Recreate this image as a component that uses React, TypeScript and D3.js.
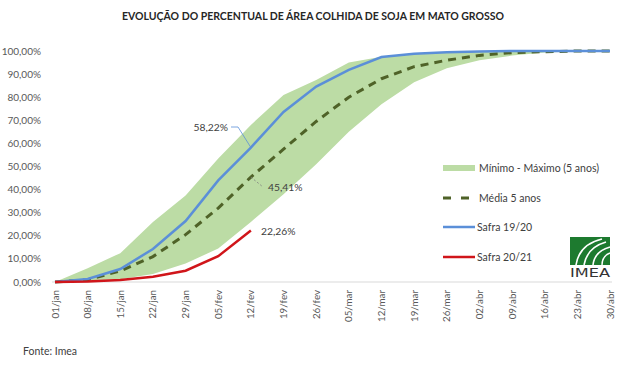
import React from 'react';
import * as d3 from 'd3';

const WEEKS = ['01/jan', '08/jan', '15/jan', '22/jan', '29/jan', '05/fev', '12/fev', '19/fev', '26/fev',
  '05/mar', '12/mar', '19/mar', '26/mar', '02/abr', '09/abr', '16/abr', '23/abr', '30/abr'];

const MINIMO = [0, 0.5, 1.2, 3.5, 8, 14.5, 26, 38, 51, 65, 77, 86.5, 92.5, 96, 98, 99.3, 99.8, 100];
const MAXIMO = [0, 6, 12.5, 26, 37.5, 53.5, 68, 81, 87.5, 95, 97.5, 99, 99.6, 99.9, 100, 100, 100, 100];
const MEDIA = [0, 1, 4.8, 11, 20.5, 32, 45.41, 57.5, 69.5, 80, 88, 93.2, 96, 98.1, 99.3, 99.7, 100, 100];
const SAFRA_1920 = [0, 1.3, 5.6, 14.3, 26.4, 44, 58.22, 73.6, 84.6, 91.8, 97.4, 98.8, 99.5, 99.8, 100, 100, 100, 100];
const SAFRA_2021 = [0, 0.2, 0.9, 2.3, 4.9, 11.2, 22.26];

const Y_TICKS = [0, 10, 20, 30, 40, 50, 60, 70, 80, 90, 100];

const FONT = 'Lato, "Open Sans", sans-serif';

const App: React.FC = () => {
  const x = d3.scalePoint<string>().domain(WEEKS).range([55, 610]);
  const y = d3.scaleLinear().domain([0, 100]).range([282, 51]);

  const px = (i: number) => x(WEEKS[i])!;

  const area = d3.area<number>()
    .x((_, i) => px(i))
    .y0((_, i) => y(MINIMO[i]))
    .y1((d) => y(d));

  const line = d3.line<number>()
    .x((_, i) => px(i))
    .y((d) => y(d));

  const fmt = (v: number) => v.toFixed(2).replace('.', ',') + '%';

  const i12 = 6;

  return (
    <svg width={641} height={366} style={{ position: 'absolute', left: 0, top: 0, background: '#fff' }}
      fontFamily={FONT}>
      <text x={313} y={20} textAnchor="middle" fontSize={10.5} fontWeight="bold" fill="#262626">
        EVOLUÇÃO DO PERCENTUAL DE ÁREA COLHIDA DE SOJA EM MATO GROSSO
      </text>

      {/* eixo y */}
      {Y_TICKS.map((t) => (
        <text key={t} x={41} y={y(t) + 3.5} textAnchor="end" fontSize={10} fill="#595959">
          {fmt(t)}
        </text>
      ))}

      {/* faixa min-max */}
      <path d={area(MAXIMO) || ''} fill="#bcdca5" />

      <line x1={52} x2={612} y1={y(0)} y2={y(0)} stroke="#d9d9d9" strokeWidth={1} />

      <path d={line(MEDIA) || ''} fill="none" stroke="#4f6228" strokeWidth={3} strokeDasharray="8,6" />
      <path d={line(SAFRA_1920) || ''} fill="none" stroke="#5b8fd8" strokeWidth={2.5} />
      <path d={line(SAFRA_2021) || ''} fill="none" stroke="#d0151a" strokeWidth={2.5} />

      {/* rótulos */}
      <polyline points={`${px(i12)},${y(SAFRA_1920[i12])} 238,127 231,127`} fill="none" stroke="#5b8fd8" strokeWidth={0.8} />
      <text x={228} y={131} textAnchor="end" fontSize={10.3} fill="#404040">{fmt(SAFRA_1920[i12])}</text>
      <line x1={px(i12)} y1={y(MEDIA[i12])} x2={263} y2={187} stroke="#7f7f7f" strokeWidth={0.8} strokeDasharray="2,2" />
      <text x={268} y={191} fontSize={10.3} fill="#404040">{fmt(MEDIA[i12])}</text>
      <text x={261} y={235} fontSize={10.3} fill="#404040">{fmt(SAFRA_2021[i12])}</text>

      {/* eixo x */}
      {WEEKS.map((w) => (
        <text key={w} transform={`translate(${x(w)! + 3.5},290) rotate(-90)`} textAnchor="end"
          fontSize={9.8} fill="#595959">
          {w}
        </text>
      ))}

      {/* legenda */}
      <rect x={443} y={165} width={32} height={6} fill="#bcdca5" />
      <text x={479} y={171.5} fontSize={10.5} fill="#404040">Mínimo - Máximo (5 anos)</text>
      <line x1={443} x2={475} y1={198} y2={198} stroke="#4f6228" strokeWidth={3} strokeDasharray="8,10" />
      <text x={479} y={201.5} fontSize={10.5} fill="#404040">Média 5 anos</text>
      <line x1={443} x2={475} y1={227} y2={227} stroke="#5b8fd8" strokeWidth={2.5} />
      <text x={477} y={230.5} fontSize={10.5} fill="#404040">Safra 19/20</text>
      <line x1={443} x2={475} y1={257} y2={257} stroke="#d0151a" strokeWidth={2.5} />
      <text x={477} y={260.5} fontSize={10.5} fill="#404040">Safra 20/21</text>

      {/* logo */}
      <g>
        <rect x={570} y={237} width={40} height={28} fill="#1d7a2f" />
        <path d="M576,265 C578,252 585,243 602,239" fill="none" stroke="#fff" strokeWidth={1.6} />
        <path d="M584,265 C586,254 592,246 606,242" fill="none" stroke="#fff" strokeWidth={1.6} />
        <path d="M593,265 C594,256 599,250 610,247" fill="none" stroke="#fff" strokeWidth={1.6} />
        <path d="M602,265 C602,259 605,255 610,253" fill="none" stroke="#fff" strokeWidth={1.4} />
        <text x={570} y={277} fontSize={12} fontFamily="'DejaVu Sans', sans-serif" fill="#333"
          textLength={40} lengthAdjust="spacingAndGlyphs">IMEA</text>
      </g>

      <text x={23} y={355} fontSize={10.5} fill="#404040">Fonte: Imea</text>
    </svg>
  );
};

export default App;
